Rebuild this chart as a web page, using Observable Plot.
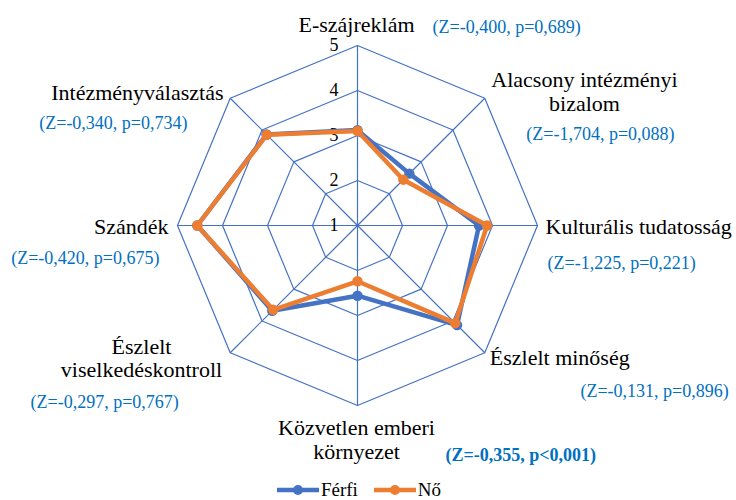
<!DOCTYPE html>
<html>
<head>
<meta charset="utf-8">
<script src="https://cdn.jsdelivr.net/npm/d3@7"></script>
<script src="https://cdn.jsdelivr.net/npm/@observablehq/plot@0.6"></script>
<style>
  html, body { margin: 0; padding: 0; background: #fff; }
  #chart svg { display: block; overflow: visible; }
  #legend { display: flex; justify-content: center; align-items: center; height: 24px; padding-right: 18px;
            font-family: "Liberation Serif", "Times New Roman", serif; font-size: 19px; color: #000; }
  .item { display: flex; align-items: center; }
  .item + .item { margin-left: 16px; }
  .item svg { margin-right: 2px; }
</style>
</head>
<body>
<div id="chart"></div>
<div id="legend"></div>
<script>
// ---- data ----
const categories = ["E-szájreklám", "Alacsony intézményi bizalom", "Kulturális tudatosság", "Észlelt minőség",
  "Közvetlen emberi környezet", "Észlelt viselkedéskontroll", "Szándék", "Intézményválasztás"];
const axisLabels = ["E-szájreklám", "Alacsony intézményi\nbizalom", "Kulturális tudatosság", "Észlelt minőség",
  "Közvetlen emberi\nkörnyezet", "Észlelt\nviselkedéskontroll", "Szándék", "Intézményválasztás"];
const zLabels = ["(Z=-0,400, p=0,689)", "(Z=-1,704, p=0,088)", "(Z=-1,225, p=0,221)", "(Z=-0,131, p=0,896)",
  "(Z=-0,355, p<0,001)", "(Z=-0,297, p=0,767)", "(Z=-0,420, p=0,675)", "(Z=-0,340, p=0,734)"];
const zBold = [false, false, false, false, true, false, false, false];
const seriesNames = ["Férfi", "Nő"];
const ferfi = [3.12, 2.63, 3.70, 4.13, 2.56, 3.68, 4.56, 3.86];
const no = [3.10, 2.44, 3.88, 4.07, 2.24, 3.65, 4.56, 3.85];
const levels = [1, 2, 3, 4, 5];
const tickLabels = ["1", "2", "3", "4", "5"];

// ---- styles / layout ----
const seriesColors = ["#4472C4", "#ED7D31"];
const gridColor = "#4472C4";
const zColor = "#0070C0";
const font = "'Liberation Serif', 'Times New Roman', serif";
const W = 736, H = 478, cx = 357, cy = 225, pxPerUnit = 45;
const minV = 1;
const labelLayout = [
  {dx: -1, dy: -14, anchor: "middle", lh: 1.05},
  {dx: 99.7, dy: 12.3, anchor: "middle", lh: 1.05},
  {dx: 8, dy: 8, anchor: "start", lh: 1.05},
  {dx: 5, dy: 12.7, anchor: "start", lh: 1.05},
  {dx: -1, dy: 53, anchor: "middle", lh: 1.05},
  {dx: -88.7, dy: 24.7, anchor: "middle", lh: 1.09},
  {dx: -9, dy: 8, anchor: "end", lh: 1.05},
  {dx: -6.7, dy: 1.3, anchor: "end", lh: 1.05}
];
const zLayout = [
  {dx: 75, dy: -13, anchor: "start"},
  {dx: 115.7, dy: 42, anchor: "middle"},
  {dx: 10, dy: 43, anchor: "start"},
  {dx: 95.7, dy: 44.7, anchor: "start"},
  {dx: 88, dy: 55, anchor: "start"},
  {dx: -199.7, dy: 55.7, anchor: "start"},
  {dx: -18, dy: 38, anchor: "end"},
  {dx: -42.7, dy: 30.3, anchor: "end"}
];

// ---- geometry helpers (in value space) ----
const n = categories.length;
const ang = i => (i / n) * 2 * Math.PI;
const px = (i, v) => (v - minV) * Math.sin(ang(i));
const py = (i, v) => (v - minV) * Math.cos(ang(i));

const gridRows = [];
levels.filter(l => l > minV).forEach(l => {
  for (let i = 0; i <= n; i++) gridRows.push({level: l, x: px(i % n, l), y: py(i % n, l)});
});
const spokes = categories.map((c, i) => ({x1: 0, y1: 0, x2: px(i, 5), y2: py(i, 5)}));
const seriesRows = s => (s === 0 ? ferfi : no).map((v, i) => ({series: seriesNames[s], x: px(i, v), y: py(i, v)}));

const xDomain = [-cx / pxPerUnit, (W - cx) / pxPerUnit];
const yDomain = [-(H - cy) / pxPerUnit, cy / pxPerUnit];

const marks = [
  Plot.line(gridRows, {x: "x", y: "y", z: "level", stroke: gridColor, strokeWidth: 1.2}),
  Plot.link(spokes, {x1: "x1", y1: "y1", x2: "x2", y2: "y2", stroke: gridColor, strokeWidth: 1.2}),
  Plot.text(levels, {x: 0, y: d => d - minV, text: (d, i) => tickLabels[i], textAnchor: "end", dx: -19,
    lineAnchor: "middle", fontSize: 18, fill: "#000", fontFamily: font})
];
[0, 1].forEach(s => {
  const rows = seriesRows(s);
  marks.push(Plot.line(rows, {x: "x", y: "y", curve: "linear-closed", stroke: seriesColors[s], strokeWidth: 4.5, strokeLinejoin: "round"}));
  marks.push(Plot.dot(rows, {x: "x", y: "y", r: 5.2, fill: seriesColors[s], stroke: "none"}));
});
categories.forEach((c, i) => {
  const L = labelLayout[i];
  marks.push(Plot.text([axisLabels[i]], {x: px(i, 5), y: py(i, 5), text: d => d, dx: L.dx, dy: L.dy,
    textAnchor: L.anchor, lineAnchor: "bottom", lineHeight: L.lh, fontSize: 22, fill: "#000", fontFamily: font}));
  const Z = zLayout[i];
  marks.push(Plot.text([zLabels[i]], {x: px(i, 5), y: py(i, 5), text: d => d, dx: Z.dx, dy: Z.dy,
    textAnchor: Z.anchor, lineAnchor: "bottom", fontSize: 18, fill: zColor, fontFamily: font,
    fontWeight: zBold[i] ? "bold" : "normal"}));
});

const chart = Plot.plot({
  width: W, height: H,
  marginTop: 0, marginRight: 0, marginBottom: 0, marginLeft: 0,
  x: {domain: xDomain, axis: null},
  y: {domain: yDomain, axis: null},
  style: {background: "#fff", overflow: "visible"},
  marks
});
document.getElementById("chart").appendChild(chart);

// legend
const legend = document.getElementById("legend");
seriesNames.forEach((name, s) => {
  const item = document.createElement("div");
  item.className = "item";
  item.innerHTML = `<svg width="42" height="12"><line x1="0" y1="6" x2="42" y2="6" stroke="${seriesColors[s]}" stroke-width="4.5"/><circle cx="21" cy="6" r="5" fill="${seriesColors[s]}"/></svg><span>${name}</span>`;
  legend.appendChild(item);
});
</script>
</body>
</html>
